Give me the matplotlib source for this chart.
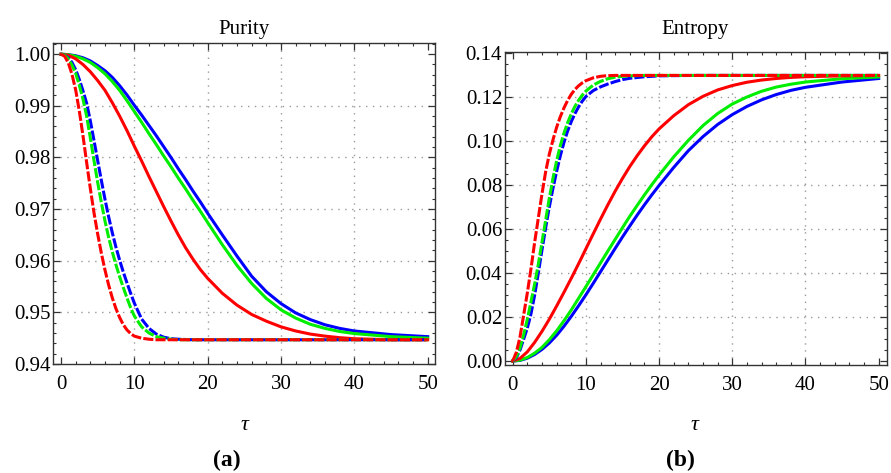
import matplotlib
matplotlib.use("Agg")
import matplotlib.pyplot as plt
from matplotlib.ticker import MultipleLocator, FormatStrFormatter

plt.rcParams['font.family'] = ['Liberation Serif', 'DejaVu Serif']

# tau grids the curves were read at
tau_fast = [0, 0.5, 1, 1.5, 2, 2.5, 3, 3.5, 4, 4.5, 5, 5.5, 6, 6.5, 7, 7.5, 8, 8.5,
            9, 9.5, 10, 11, 12, 13, 14, 15, 16, 18, 20, 22, 25, 30, 40, 50]
tau_slow = [0, 1, 2, 3, 4, 5, 6, 7, 8, 9, 10, 11, 12, 13, 14, 15, 16, 17, 18, 19, 20,
            22, 24, 26, 28, 30, 32, 34, 36, 38, 40, 45, 50]

# purity, solid curves (tau_slow)
pur_blue = [1.0, 0.9999, 0.9997, 0.9993, 0.9987, 0.9978, 0.9968, 0.9955, 0.9939, 0.9921,
            0.9901, 0.9882, 0.9862, 0.9842, 0.9821, 0.9800, 0.9778, 0.9757, 0.9735, 0.9714,
            0.9692, 0.9650, 0.9609, 0.9570, 0.9540, 0.9517, 0.9499, 0.9486, 0.9476, 0.9469,
            0.9464, 0.9457, 0.9453]
pur_green = [1.0, 0.9999, 0.9996, 0.9991, 0.9984, 0.9974, 0.9962, 0.9947, 0.9930, 0.9910,
             0.9889, 0.9868, 0.9846, 0.9825, 0.9803, 0.9782, 0.9760, 0.9739, 0.9717, 0.9696,
             0.9674, 0.9631, 0.9591, 0.9556, 0.9527, 0.9505, 0.9489, 0.9477, 0.9469, 0.9463,
             0.9459, 0.9453, 0.9450]
pur_red = [1.0, 0.9998, 0.9991, 0.9980, 0.9966, 0.9949, 0.9930, 0.9906, 0.9880, 0.9852,
           0.9822, 0.9793, 0.9763, 0.9734, 0.9705, 0.9677, 0.9650, 0.9625, 0.9603, 0.9583,
           0.9566, 0.9537, 0.9514, 0.9496, 0.9483, 0.9472, 0.9464, 0.9458, 0.9454, 0.9451,
           0.9449, 0.9447, 0.9447]

# purity, dashed curves (tau_fast)
pur_blue_d = [1.0, 0.9998, 0.9993, 0.9984, 0.9970, 0.9951, 0.9929, 0.9905, 0.9871, 0.9833,
              0.9794, 0.9756, 0.9719, 0.9685, 0.9654, 0.9626, 0.9601, 0.9578, 0.9557, 0.9537,
              0.9518, 0.9487, 0.9469, 0.9458, 0.9452, 0.9449, 0.9448, 0.9447, 0.9447, 0.9447,
              0.9447, 0.9447, 0.9447, 0.9447]
pur_green_d = [1.0, 0.9998, 0.9991, 0.9979, 0.9963, 0.9940, 0.9913, 0.9880, 0.9838, 0.9794,
               0.9752, 0.9713, 0.9677, 0.9645, 0.9617, 0.9592, 0.9569, 0.9548, 0.9528, 0.9509,
               0.9493, 0.9472, 0.9460, 0.9453, 0.9450, 0.9448, 0.9447, 0.9447, 0.9447, 0.9447,
               0.9447, 0.9447, 0.9447, 0.9447]
pur_red_d = [1.0, 0.9996, 0.9983, 0.9961, 0.9931, 0.9890, 0.9842, 0.9790, 0.9740, 0.9693,
             0.9652, 0.9615, 0.9582, 0.9553, 0.9528, 0.9507, 0.9490, 0.9476, 0.9466, 0.9459,
             0.9454, 0.9450, 0.9448, 0.9447, 0.9447, 0.9447, 0.9447, 0.9447, 0.9447, 0.9447,
             0.9447, 0.9447, 0.9447, 0.9447]

# entropy, solid curves (tau_slow)
ent_blue = [0.0, 0.0003, 0.0013, 0.0030, 0.0053, 0.0082, 0.0117, 0.0158, 0.0203, 0.0251,
            0.0301, 0.0353, 0.0406, 0.0459, 0.0512, 0.0564, 0.0614, 0.0663, 0.0710, 0.0755,
            0.0798, 0.0880, 0.0956, 0.1020, 0.1075, 0.1120, 0.1157, 0.1187, 0.1211, 0.1230,
            0.1244, 0.1268, 0.1284]
ent_green = [0.0, 0.0004, 0.0016, 0.0036, 0.0062, 0.0097, 0.0137, 0.0183, 0.0232, 0.0285,
             0.0338, 0.0392, 0.0446, 0.0500, 0.0553, 0.0606, 0.0658, 0.0707, 0.0755, 0.0801,
             0.0845, 0.0928, 0.1003, 0.1070, 0.1125, 0.1168, 0.1200, 0.1226, 0.1245, 0.1258,
             0.1268, 0.1283, 0.1291]
ent_red = [0.0, 0.0012, 0.0042, 0.0085, 0.0135, 0.0190, 0.0250, 0.0312, 0.0376, 0.0442,
           0.0510, 0.0578, 0.0645, 0.0710, 0.0772, 0.0830, 0.0884, 0.0933, 0.0978, 0.1019,
           0.1055, 0.1115, 0.1165, 0.1203, 0.1232, 0.1252, 0.1267, 0.1277, 0.1284, 0.1289,
           0.1292, 0.1296, 0.1298]

# entropy, dashed curves (tau_fast)
ent_blue_d = [0.0, 0.0015, 0.0050, 0.0100, 0.0150, 0.0215, 0.0300, 0.0400, 0.0505, 0.0605,
              0.0700, 0.0785, 0.0862, 0.0932, 0.0993, 0.1045, 0.1088, 0.1124, 0.1155, 0.1181,
              0.1202, 0.1229, 0.1246, 0.1259, 0.1270, 0.1279, 0.1285, 0.1292, 0.1296, 0.1297,
              0.1298, 0.1298, 0.1298, 0.1298]
ent_green_d = [0.0, 0.0020, 0.0060, 0.0120, 0.0190, 0.0270, 0.0350, 0.0440, 0.0540, 0.0640,
               0.0740, 0.0830, 0.0910, 0.0978, 0.1035, 0.1083, 0.1123, 0.1157, 0.1185, 0.1208,
               0.1227, 0.1254, 0.1271, 0.1283, 0.1290, 0.1294, 0.1296, 0.1298, 0.1298, 0.1298,
               0.1298, 0.1298, 0.1298, 0.1298]
ent_red_d = [0.0, 0.0040, 0.0110, 0.0210, 0.0310, 0.0420, 0.0540, 0.0650, 0.0760, 0.0860,
             0.0940, 0.1005, 0.1062, 0.1110, 0.1150, 0.1184, 0.1212, 0.1234, 0.1251, 0.1264,
             0.1274, 0.1287, 0.1294, 0.1297, 0.1298, 0.1298, 0.1298, 0.1298, 0.1298, 0.1298,
             0.1298, 0.1298, 0.1298, 0.1298]

BLUE, GREEN, RED = '#0000ff', '#00ee00', '#ff0000'
LW = 2.2
DASH = (0, (3.3, 0.7))


def style_axes(ax, ymajor, yminor, yfmt, ygrid):
    ax.xaxis.set_major_locator(MultipleLocator(10))
    ax.xaxis.set_minor_locator(MultipleLocator(2))
    ax.yaxis.set_major_locator(MultipleLocator(ymajor))
    ax.yaxis.set_minor_locator(MultipleLocator(yminor))
    ax.yaxis.set_major_formatter(FormatStrFormatter(yfmt))
    ax.tick_params(which='both', direction='in', top=True, right=True,
                   colors='#333333', labelcolor='black', labelsize=15)
    ax.tick_params(which='major', length=5, width=0.9)
    ax.tick_params(which='minor', length=2.5, width=0.8)
    ax.tick_params(axis='x', which='major', pad=8)
    ax.tick_params(axis='y', which='major', pad=2)
    for s in ax.spines.values():
        s.set_color('#333333')
        s.set_linewidth(1.0)
    for gx in [10, 20, 30, 40]:
        ax.axvline(gx, color='#999999', lw=1.0, ls=(0, (1, 4)), zorder=0)
    for gy in ygrid:
        ax.axhline(gy, color='#999999', lw=1.0, ls=(0, (1, 4)), zorder=0)


fig = plt.figure(figsize=(8.91, 4.73), dpi=100)
ax1 = fig.add_axes([0.0598, 0.2304, 0.4284, 0.678])
ax2 = fig.add_axes([0.5668, 0.2283, 0.4284, 0.6611])

# purity
ax1.plot(tau_slow, pur_blue, color=BLUE, lw=LW)
ax1.plot(tau_slow, pur_green, color=GREEN, lw=LW)
ax1.plot(tau_slow, pur_red, color=RED, lw=LW)
ax1.plot(tau_fast, pur_blue_d, color=BLUE, lw=LW, ls=DASH)
ax1.plot(tau_fast, pur_green_d, color=GREEN, lw=LW, ls=DASH)
ax1.plot(tau_fast, pur_red_d, color=RED, lw=LW, ls=DASH)
ax1.set_xlim(-1.05, 51.0)
ax1.set_ylim(0.94, 1.0021)
style_axes(ax1, 0.01, 0.002, '%.2f', [0.95, 0.96, 0.97, 0.98, 0.99])

# entropy
ax2.plot(tau_slow, ent_blue, color=BLUE, lw=LW)
ax2.plot(tau_slow, ent_green, color=GREEN, lw=LW)
ax2.plot(tau_slow, ent_red, color=RED, lw=LW)
ax2.plot(tau_fast, ent_blue_d, color=BLUE, lw=LW, ls=DASH)
ax2.plot(tau_fast, ent_green_d, color=GREEN, lw=LW, ls=DASH)
ax2.plot(tau_fast, ent_red_d, color=RED, lw=LW, ls=DASH)
ax2.set_xlim(-1.05, 51.1)
ax2.set_ylim(-0.0018, 0.1403)
style_axes(ax2, 0.02, 0.005, '%.2f', [0.02, 0.04, 0.06, 0.08, 0.10, 0.12])

fig.text(244 / 891, 1 - 34 / 473, 'Purity', ha='center', va='baseline', fontsize=15)
fig.text(695 / 891, 1 - 34 / 473, 'Entropy', ha='center', va='baseline', fontsize=15)
fig.text(245 / 891, 1 - 430 / 473, 'τ', ha='center', va='baseline', fontsize=16, style='italic')
fig.text(695 / 891, 1 - 430 / 473, 'τ', ha='center', va='baseline', fontsize=16, style='italic')
fig.text(227 / 891, 1 - 466 / 473, '(a)', ha='center', va='baseline', fontsize=17, weight='bold')
fig.text(680 / 891, 1 - 466 / 473, '(b)', ha='center', va='baseline', fontsize=17, weight='bold')

fig.savefig('out.png', dpi=100)
